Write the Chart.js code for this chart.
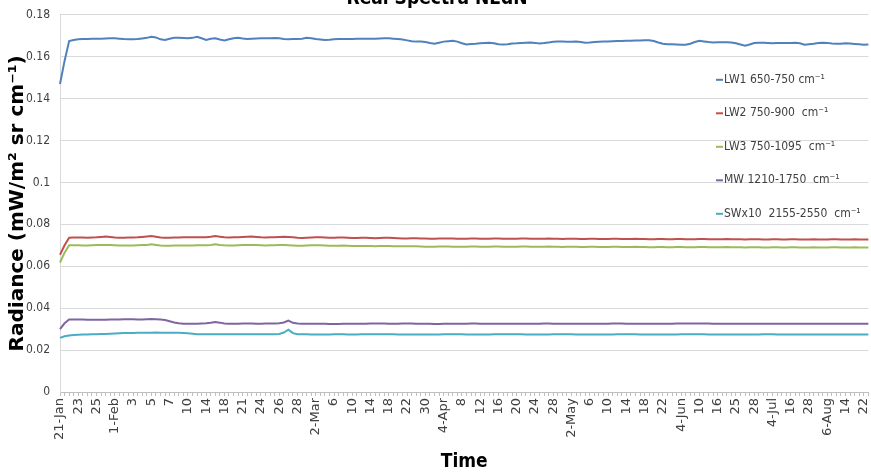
<!DOCTYPE html>
<html>
<head>
<meta charset="utf-8">
<title>Real Spectra NEdN</title>
<script src="https://cdn.jsdelivr.net/npm/chart.js@4.4.0/dist/chart.umd.min.js"></script>
<style>
    html, body { margin: 0; padding: 0; background: #fff; overflow: hidden; }
    #wrap { position: absolute; left: 0; top: -12px; width: 886px; height: 485px; }
</style>
</head>
<body>
<div id="wrap"><canvas id="nednChart"></canvas></div>
<script>
// date labels, one on every 4th observation
const tickLabels = ['21-Jan','23','25','1-Feb','3','5','7','10','14','18','21','24','26','28',
    '2-Mar','6','10','14','18','22','30','4-Apr','8','12','16','20','24','28',
    '2-May','6','10','14','18','22','4-Jun','10','16','25','28','4-Jul','16','28',
    '6-Aug','14','22'];
const LABEL_EVERY = 4;

const seriesNames = ['LW1 650-750 cm\u207B\u00B9', 'LW2 750-900  cm\u207B\u00B9', 'LW3 750-1095  cm\u207B\u00B9',
    'MW 1210-1750  cm\u207B\u00B9', 'SWx10  2155-2550  cm\u207B\u00B9'];
const seriesColors = ['#4F81BD', '#C0504D', '#9BBB59', '#8064A2', '#4BACC6'];

const lw1 = [
    0.1470,0.1580,0.1675,0.1680,0.1683,0.1684,0.1685,0.1686,0.1686,0.1686,
    0.1687,0.1688,0.1688,0.1686,0.1684,0.1683,0.1683,0.1684,0.1687,0.1690,
    0.1695,0.1692,0.1683,0.1680,0.1686,0.1690,0.1690,0.1689,0.1688,0.1690,
    0.1695,0.1688,0.1680,0.1686,0.1688,0.1682,0.1678,0.1683,0.1688,0.1690,
    0.1687,0.1685,0.1686,0.1687,0.1688,0.1688,0.1688,0.1689,0.1688,0.1685,
    0.1683,0.1684,0.1684,0.1686,0.1690,0.1688,0.1684,0.1682,0.1680,0.1681,
    0.1683,0.1684,0.1685,0.1685,0.1685,0.1686,0.1686,0.1686,0.1686,0.1686,
    0.1687,0.1688,0.1688,0.1686,0.1684,0.1682,0.1678,0.1674,0.1672,0.1672,
    0.1670,0.1665,0.1662,0.1667,0.1672,0.1674,0.1676,0.1672,0.1664,0.1658,
    0.1661,0.1662,0.1664,0.1666,0.1667,0.1664,0.1659,0.1658,0.1660,0.1663,
    0.1664,0.1666,0.1667,0.1668,0.1666,0.1663,0.1665,0.1668,0.1671,0.1672,
    0.1672,0.1671,0.1671,0.1673,0.1670,0.1667,0.1668,0.1670,0.1671,0.1672,
    0.1673,0.1674,0.1675,0.1675,0.1676,0.1676,0.1677,0.1677,0.1678,0.1679,
    0.1675,0.1668,0.1662,0.1660,0.1659,0.1658,0.1657,0.1657,0.1662,0.1670,
    0.1676,0.1673,0.1670,0.1668,0.1669,0.1669,0.1669,0.1668,0.1664,0.1658,
    0.1652,0.1658,0.1665,0.1667,0.1667,0.1666,0.1664,0.1665,0.1666,0.1665,
    0.1666,0.1667,0.1664,0.1657,0.1660,0.1662,0.1665,0.1667,0.1666,0.1663,
    0.1662,0.1662,0.1664,0.1663,0.1661,0.1659,0.1657,0.1658
];
const lw2 = [
    0.0655,0.0700,0.0736,0.0737,0.0737,0.0737,0.0736,0.0737,0.0738,0.0740,
    0.0742,0.0740,0.0737,0.0736,0.0736,0.0737,0.0737,0.0738,0.0740,0.0742,
    0.0744,0.0741,0.0737,0.0736,0.0736,0.0737,0.0737,0.0738,0.0738,0.0738,
    0.0738,0.0738,0.0739,0.0741,0.0744,0.0741,0.0738,0.0737,0.0738,0.0739,
    0.0740,0.0741,0.0742,0.0740,0.0738,0.0737,0.0738,0.0739,0.0740,0.0741,
    0.0740,0.0738,0.0736,0.0735,0.0736,0.0737,0.0738,0.0738,0.0737,0.0736,
    0.0736,0.0737,0.0737,0.0736,0.0735,0.0735,0.0736,0.0736,0.0735,0.0734,
    0.0735,0.0736,0.0736,0.0735,0.0734,0.0733,0.0733,0.0734,0.0734,0.0733,
    0.0732,0.0731,0.0731,0.0732,0.0733,0.0733,0.0732,0.0731,0.0731,0.0731,
    0.0732,0.0732,0.0731,0.0731,0.0731,0.0732,0.0732,0.0731,0.0731,0.0731,
    0.0731,0.0732,0.0732,0.0731,0.0731,0.0731,0.0731,0.0732,0.0731,0.0731,
    0.0730,0.0731,0.0731,0.0731,0.0730,0.0730,0.0731,0.0731,0.0730,0.0730,
    0.0730,0.0731,0.0731,0.0730,0.0730,0.0730,0.0731,0.0730,0.0730,0.0729,
    0.0729,0.0730,0.0730,0.0729,0.0729,0.0730,0.0730,0.0729,0.0729,0.0729,
    0.0730,0.0730,0.0729,0.0729,0.0729,0.0729,0.0730,0.0729,0.0729,0.0729,
    0.0728,0.0729,0.0729,0.0729,0.0728,0.0728,0.0729,0.0729,0.0728,0.0728,
    0.0729,0.0729,0.0728,0.0728,0.0728,0.0729,0.0728,0.0728,0.0728,0.0729,
    0.0729,0.0728,0.0728,0.0728,0.0729,0.0728,0.0728,0.0728
];
const lw3 = [
    0.0618,0.0665,0.0700,0.0700,0.0700,0.0699,0.0699,0.0700,0.0701,0.0702,
    0.0702,0.0701,0.0700,0.0699,0.0699,0.0699,0.0699,0.0700,0.0701,0.0702,
    0.0705,0.0702,0.0699,0.0698,0.0698,0.0699,0.0699,0.0699,0.0699,0.0699,
    0.0700,0.0700,0.0700,0.0702,0.0705,0.0702,0.0700,0.0699,0.0699,0.0700,
    0.0701,0.0701,0.0702,0.0701,0.0700,0.0699,0.0700,0.0700,0.0701,0.0701,
    0.0700,0.0699,0.0698,0.0698,0.0699,0.0700,0.0700,0.0700,0.0699,0.0698,
    0.0698,0.0698,0.0699,0.0698,0.0697,0.0697,0.0697,0.0697,0.0697,0.0696,
    0.0697,0.0697,0.0697,0.0696,0.0695,0.0695,0.0695,0.0695,0.0695,0.0694,
    0.0693,0.0693,0.0693,0.0694,0.0694,0.0694,0.0693,0.0693,0.0693,0.0693,
    0.0694,0.0694,0.0693,0.0693,0.0693,0.0694,0.0694,0.0693,0.0693,0.0693,
    0.0693,0.0694,0.0694,0.0693,0.0693,0.0693,0.0693,0.0694,0.0693,0.0693,
    0.0692,0.0693,0.0693,0.0693,0.0692,0.0692,0.0693,0.0693,0.0692,0.0692,
    0.0692,0.0693,0.0693,0.0692,0.0692,0.0692,0.0693,0.0692,0.0692,0.0691,
    0.0691,0.0692,0.0692,0.0691,0.0691,0.0692,0.0692,0.0691,0.0691,0.0691,
    0.0692,0.0692,0.0691,0.0691,0.0691,0.0691,0.0692,0.0691,0.0691,0.0691,
    0.0690,0.0691,0.0691,0.0691,0.0690,0.0690,0.0691,0.0691,0.0690,0.0690,
    0.0691,0.0691,0.0690,0.0690,0.0690,0.0691,0.0690,0.0690,0.0690,0.0691,
    0.0691,0.0690,0.0690,0.0690,0.0691,0.0690,0.0690,0.0690
];
const mw = [
    0.0300,0.0328,0.0346,0.0346,0.0346,0.0346,0.0345,0.0345,0.0345,0.0345,
    0.0345,0.0346,0.0346,0.0346,0.0347,0.0347,0.0347,0.0346,0.0346,0.0347,
    0.0348,0.0347,0.0346,0.0344,0.0338,0.0332,0.0328,0.0326,0.0326,0.0326,
    0.0326,0.0327,0.0328,0.0330,0.0334,0.0331,0.0327,0.0326,0.0326,0.0326,
    0.0327,0.0327,0.0327,0.0326,0.0326,0.0327,0.0327,0.0327,0.0328,0.0332,
    0.0341,0.0330,0.0327,0.0326,0.0326,0.0326,0.0326,0.0326,0.0326,0.0325,
    0.0325,0.0325,0.0326,0.0326,0.0326,0.0326,0.0326,0.0326,0.0327,0.0327,
    0.0327,0.0327,0.0326,0.0326,0.0326,0.0327,0.0327,0.0327,0.0326,0.0326,
    0.0326,0.0326,0.0325,0.0325,0.0326,0.0326,0.0326,0.0326,0.0326,0.0326,
    0.0327,0.0327,0.0326,0.0326,0.0326,0.0326,0.0326,0.0326,0.0326,0.0326,
    0.0326,0.0326,0.0326,0.0326,0.0326,0.0326,0.0327,0.0327,0.0326,0.0326,
    0.0326,0.0326,0.0326,0.0326,0.0326,0.0326,0.0326,0.0326,0.0326,0.0326,
    0.0326,0.0327,0.0327,0.0327,0.0326,0.0326,0.0326,0.0326,0.0326,0.0326,
    0.0326,0.0326,0.0326,0.0326,0.0326,0.0327,0.0327,0.0327,0.0327,0.0327,
    0.0327,0.0327,0.0327,0.0326,0.0326,0.0326,0.0326,0.0326,0.0326,0.0326,
    0.0326,0.0326,0.0326,0.0326,0.0326,0.0326,0.0326,0.0326,0.0326,0.0326,
    0.0326,0.0326,0.0326,0.0326,0.0326,0.0326,0.0326,0.0326,0.0326,0.0326,
    0.0326,0.0326,0.0326,0.0326,0.0326,0.0326,0.0326,0.0326
];
const swx10 = [
    0.0258,0.0266,0.0270,0.0272,0.0273,0.0274,0.0274,0.0275,0.0276,0.0277,
    0.0277,0.0278,0.0279,0.0280,0.0281,0.0282,0.0282,0.0283,0.0283,0.0283,
    0.0283,0.0284,0.0283,0.0283,0.0283,0.0283,0.0283,0.0282,0.0280,0.0278,
    0.0276,0.0275,0.0275,0.0275,0.0276,0.0276,0.0275,0.0275,0.0275,0.0276,
    0.0276,0.0276,0.0276,0.0275,0.0275,0.0275,0.0275,0.0276,0.0277,0.0284,
    0.0297,0.0281,0.0276,0.0275,0.0275,0.0274,0.0274,0.0274,0.0274,0.0274,
    0.0275,0.0275,0.0275,0.0274,0.0274,0.0274,0.0275,0.0275,0.0275,0.0275,
    0.0275,0.0275,0.0275,0.0275,0.0274,0.0274,0.0274,0.0274,0.0274,0.0274,
    0.0274,0.0274,0.0274,0.0274,0.0275,0.0275,0.0275,0.0275,0.0275,0.0274,
    0.0274,0.0274,0.0274,0.0274,0.0274,0.0275,0.0275,0.0275,0.0275,0.0275,
    0.0275,0.0275,0.0274,0.0274,0.0274,0.0274,0.0274,0.0274,0.0275,0.0275,
    0.0275,0.0275,0.0275,0.0274,0.0274,0.0274,0.0274,0.0274,0.0274,0.0274,
    0.0274,0.0274,0.0275,0.0275,0.0275,0.0275,0.0275,0.0274,0.0274,0.0274,
    0.0274,0.0274,0.0274,0.0274,0.0274,0.0274,0.0275,0.0275,0.0275,0.0275,
    0.0275,0.0275,0.0274,0.0274,0.0274,0.0274,0.0274,0.0274,0.0274,0.0274,
    0.0274,0.0274,0.0274,0.0274,0.0275,0.0275,0.0275,0.0274,0.0274,0.0274,
    0.0274,0.0274,0.0274,0.0274,0.0274,0.0274,0.0274,0.0274,0.0274,0.0274,
    0.0274,0.0274,0.0274,0.0274,0.0274,0.0274,0.0274,0.0274
];

const narrowFont = "'Liberation Sans Narrow', 'DejaVu Sans Condensed', sans-serif";

// one category per observation
const categories = lw1.map((_, i) => i);

// Excel-style legend sitting inside the plot area, on the right
const insideLegend = {
    id: 'insideLegend',
    afterDatasetsDraw(chart) {
        const ctx = chart.ctx;
        const area = chart.chartArea;
        const x = area.left + 656;
        ctx.save();
        ctx.font = '12px ' + narrowFont;
        ctx.textBaseline = 'middle';
        ctx.textAlign = 'left';
        chart.data.datasets.forEach((ds, i) => {
            const y = area.top + 65 + i * 33.5;
            ctx.strokeStyle = ds.borderColor;
            ctx.lineWidth = 2;
            ctx.beginPath();
            ctx.moveTo(x, y);
            ctx.lineTo(x + 7, y);
            ctx.stroke();
            ctx.fillStyle = '#404040';
            ctx.fillText(ds.label, x + 8, y);
        });
        ctx.restore();
    }
};

const seriesData = [lw1, lw2, lw3, mw, swx10];

new Chart(document.getElementById('nednChart').getContext('2d'), {
    type: 'line',
    data: {
        labels: categories,
        datasets: seriesData.map((values, i) => ({
            label: seriesNames[i],
            data: values,
            borderColor: seriesColors[i],
            backgroundColor: seriesColors[i],
            borderWidth: 2,
            pointRadius: 0,
            tension: 0,
            fill: false
        }))
    },
    options: {
        responsive: true,
        maintainAspectRatio: false,
        animation: false,
        layout: { padding: { left: 0, right: 12, top: 0, bottom: 0 } },
        plugins: {
            legend: { display: false },
            tooltip: { enabled: false },
            title: {
                display: true,
                text: 'Real Spectra NEdN',
                color: '#000',
                font: { family: narrowFont, size: 19, weight: 'bold' },
                padding: { top: 0, bottom: 4 }
            }
        },
        scales: {
            x: {
                grid: {
                    display: true,
                    drawOnChartArea: false,
                    drawTicks: true,
                    tickLength: 4,
                    color: '#bfbfbf'
                },
                border: { display: true, color: '#bfbfbf' },
                ticks: {
                    autoSkip: false,
                    minRotation: 90,
                    maxRotation: 90,
                    padding: 2,
                    color: '#404040',
                    font: { family: "'DejaVu Sans', sans-serif", size: 13 },
                    callback: (value, index) => index % LABEL_EVERY === 0 ? (tickLabels[index / LABEL_EVERY] || '') : ''
                },
                title: {
                    display: true,
                    text: 'Time',
                    color: '#000',
                    font: { family: narrowFont, size: 19, weight: 'bold', lineHeight: 1.1 },
                    padding: { top: 0, bottom: 0 }
                },
                afterFit: (scale) => { scale.height = 81; }
            },
            y: {
                min: 0,
                max: 0.18,
                grid: { color: '#d9d9d9', drawTicks: false },
                border: { display: true, color: '#d9d9d9' },
                ticks: {
                    stepSize: 0.02,
                    padding: 10,
                    color: '#404040',
                    font: { family: narrowFont, size: 12 },
                    callback: (value) => String(parseFloat(value.toFixed(2)))
                },
                title: {
                    display: true,
                    text: 'Radiance (mW/m\u00B2 sr cm\u207B\u00B9)',
                    color: '#000',
                    font: { family: "'DejaVu Sans', sans-serif", size: 20, weight: 'bold' },
                    padding: { top: 6, bottom: 0 }
                },
                afterFit: (scale) => { scale.width = 60; }
            }
        }
    },
    plugins: [insideLegend]
});
</script>
</body>
</html>
